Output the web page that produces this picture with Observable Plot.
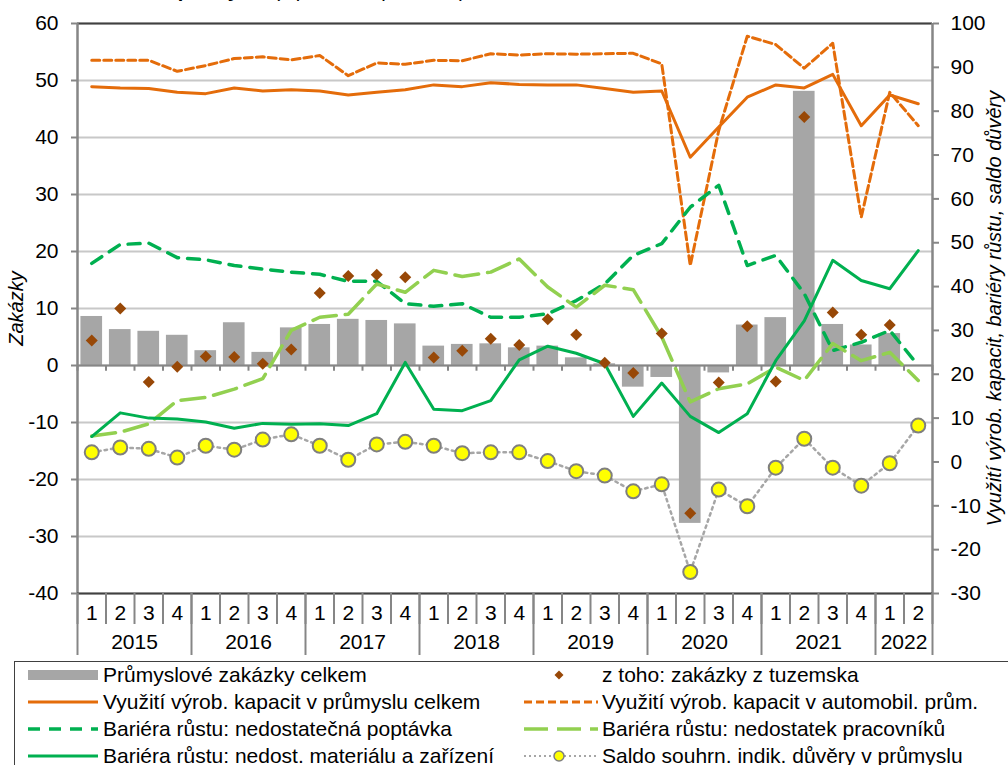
<!DOCTYPE html>
<html>
<head>
<meta charset="utf-8">
<script src="https://cdn.jsdelivr.net/npm/d3@7"></script>
<script src="https://cdn.jsdelivr.net/npm/@observablehq/plot@0.6"></script>
<style>
html, body { margin: 0; padding: 0; background: #fff; overflow: hidden; width: 1008px; height: 765px; }
#wrap { position: relative; width: 1008px; height: 765px; font-family: "Liberation Sans", Arial, sans-serif; color: #000; }
#title { position: absolute; left: 0; top: -20px; font-size: 20px; line-height: 20px; white-space: nowrap; }
#chart { position: absolute; left: 0; top: 0; }
#legendBox { position: absolute; left: 14px; top: 661px; width: 1010px; height: 120px; border: 1.5px solid #404040; box-sizing: border-box; }
.item { position: absolute; height: 24px; display: flex; align-items: center; font-size: 21px; white-space: nowrap; }
.item svg { flex: none; }
</style>
</head>
<body>
<div id="wrap">
  <div id="chart"></div>
  <div id="title"><b>Graf 4 Ukazatele v průmyslu</b> (v průměru, procenta)</div>
  <div id="legendBox"></div>
</div>
<script>
// ---------- data ----------
const years = ["2015", "2016", "2017", "2018", "2019", "2020", "2021", "2022"];
const quartersPerYear = [4, 4, 4, 4, 4, 4, 4, 2];
const quarters = ["1","2","3","4","1","2","3","4","1","2","3","4","1","2","3","4",
                  "1","2","3","4","1","2","3","4","1","2","3","4","1","2"];

// left axis (Zakázky)
const orders = [8.6, 6.3, 6.0, 5.3, 2.6, 7.5, 2.3, 6.6, 7.2, 8.1, 7.9, 7.3, 3.4, 3.7, 3.8,
                3.1, 3.4, 1.35, 0.3, -3.8, -2.1, -27.7, -1.3, 7.1, 8.4, 48.1, 7.2, 3.6, 5.6, null];
const domestic = [4.4, 10.0, -2.9, -0.2, 1.6, 1.5, 0.3, 2.8, 12.7, 15.7, 15.9, 15.5, 1.4, 2.6, 4.7,
                  3.6, 8.1, 5.4, 0.5, -1.3, 5.6, -25.9, -3.0, 6.9, -2.8, 43.6, 9.3, 5.4, 7.1, null];

// right axis
const capacity = [85.6, 85.3, 85.2, 84.3, 84.0, 85.3, 84.6, 84.9, 84.6, 83.7, 84.3, 84.9, 86.0, 85.6, 86.5,
                  86.1, 86.0, 86.0, 85.2, 84.3, 84.6, 69.5, 76.4, 83.2, 86.0, 85.3, 88.4, 76.7, 83.7, 81.7];
const autoCapacity = [91.6, 91.6, 91.6, 89.1, 90.4, 92.0, 92.4, 91.7, 92.7, 88.1, 91.0, 90.7, 91.6, 91.5, 93.1,
                      92.8, 93.1, 93.0, 93.1, 93.2, 90.8, 44.8, 75.6, 97.1, 95.2, 89.8, 95.5, 55.8, 84.3, 76.7];
const demand = [45.3, 49.6, 49.9, 46.6, 46.1, 44.8, 44.0, 43.3, 42.8, 41.2, 41.2, 36.1, 35.5, 36.1, 33.0,
                33.0, 33.8, 36.8, 40.6, 47.1, 49.8, 58.1, 63.1, 44.8, 47.1, 38.4, 25.4, 27.3, 30.0, 22.0];
const labour = [5.9, 6.8, 8.7, 14.0, 14.7, 16.6, 19.0, 30.0, 33.0, 33.7, 40.6, 38.7, 43.7, 42.3, 43.3,
                46.3, 39.9, 35.3, 40.3, 39.3, 28.5, 13.7, 16.7, 17.8, 21.6, 18.6, 27.0, 23.1, 25.0, 18.6];
const material = [5.8, 11.2, 10.0, 9.8, 9.1, 7.7, 8.8, 8.6, 8.7, 8.3, 11.0, 22.7, 12.0, 11.7, 14.0,
                  23.3, 26.4, 24.8, 22.4, 10.4, 18.0, 10.4, 6.7, 11.0, 23.1, 32.2, 46.0, 41.4, 39.5, 48.2];
const confidence = [2.2, 3.3, 3.0, 1.0, 3.7, 2.8, 5.1, 6.3, 3.7, 0.5, 4.0, 4.6, 3.7, 2.0, 2.2,
                    2.2, 0.2, -2.1, -3.1, -6.7, -5.1, -25.1, -6.3, -10.1, -1.3, 5.3, -1.3, -5.4, -0.3, 8.3];

const leftTicks = [-40, -30, -20, -10, 0, 10, 20, 30, 40, 50, 60];
const rightTicks = [-30, -20, -10, 0, 10, 20, 30, 40, 50, 60, 70, 80, 90, 100];
const leftDomain = [-40, 60];
const rightDomain = [-30, 100];

const labels = {
  orders: "Průmyslové zakázky celkem",
  domestic: "z toho: zakázky z tuzemska",
  capacity: "Využití výrob. kapacit v průmyslu celkem",
  autoCapacity: "Využití výrob. kapacit v automobil. prům.",
  demand: "Bariéra růstu: nedostatečná poptávka",
  labour: "Bariéra růstu: nedostatek pracovníků",
  material: "Bariéra růstu: nedost. materiálu a zařízení",
  confidence: "Saldo souhrn. indik. důvěry v průmyslu"
};
const axisTitleLeft = "Zakázky";
const axisTitleRight = "Využití výrob. kapacit, bariéry růstu, saldo důvěry";

// ---------- styles ----------
const C = {
  bar: "#a6a6a6", diamond: "#984807", orange: "#e46c0a", green: "#00b050",
  lightGreen: "#92d050", yellow: "#ffff00", dotStroke: "#7f7f7f", dotted: "#a6a6a6",
  axis: "#868686", grid: "#c8c8c8", frame: "#404040"
};
const DASH = { auto: "8,4", demand: "12,9", labour: "24,9", dotted: "2.5,4" };

// ---------- derived ----------
const toLeft = v => v == null ? null :
  leftDomain[0] + (v - rightDomain[0]) * (leftDomain[1] - leftDomain[0]) / (rightDomain[1] - rightDomain[0]);
const fromLeft = y => Math.round(rightDomain[0] + (y - leftDomain[0]) * (rightDomain[1] - rightDomain[0]) / (leftDomain[1] - leftDomain[0]));

const yearStarts = [];
{ let s = 0; quartersPerYear.forEach(n => { yearStarts.push(s); s += n; }); }
const yearCenters = years.map((y, k) => yearStarts[k] + (quartersPerYear[k] - 1) / 2);
const yearLabel = new Map(yearCenters.map((c, k) => [c, years[k]]));
const yearBounds = [...yearStarts.map(s => s - 0.5), quarters.length - 0.5];
const qBounds = d3.range(quarters.length + 1).map(k => k - 0.5);

const rows = quarters.map((q, i) => ({
  i, q,
  orders: orders[i], domestic: domestic[i],
  capacity: toLeft(capacity[i]), autoCapacity: toLeft(autoCapacity[i]),
  demand: toLeft(demand[i]), labour: toLeft(labour[i]),
  material: toLeft(material[i]), confidence: toLeft(confidence[i])
}));

const diamondSymbol = {
  draw(ctx, size) {
    const h = Math.sqrt(size / Math.PI) * 1.2;
    ctx.moveTo(0, -h); ctx.lineTo(h, 0); ctx.lineTo(0, h); ctx.lineTo(-h, 0); ctx.closePath();
  }
};

const FONT = 21;
const chart = Plot.plot({
  width: 1008, height: 657,
  marginLeft: 77, marginRight: 76, marginTop: 23, marginBottom: 64,
  x: { type: "linear", domain: [-0.5, quarters.length - 0.5], axis: null },
  y: { domain: leftDomain, axis: null },
  style: { fontFamily: "'Liberation Sans', Arial, sans-serif", fontSize: FONT + "px", color: "#000", background: "#fff", overflow: "visible" },
  marks: [
    Plot.gridY({ ticks: leftTicks, stroke: C.grid, strokeOpacity: 1, strokeWidth: 2 }),
    Plot.rectY(rows.filter(d => d.orders != null), { x1: d => d.i - 0.38, x2: d => d.i + 0.38, y: "orders", fill: C.bar }),
    Plot.ruleY([0], { stroke: C.axis, strokeWidth: 2 }),
    Plot.ruleX(qBounds, { y1: 0, y2: -1, stroke: C.axis, strokeWidth: 2 }),
    Plot.ruleY([leftDomain[1]], { stroke: C.frame, strokeWidth: 2 }),
    Plot.ruleX([-0.5, quarters.length - 0.5], { stroke: C.axis, strokeWidth: 2.5 }),
    Plot.ruleY([leftDomain[0]], { stroke: C.frame, strokeWidth: 2 }),

    Plot.line(rows, { x: "i", y: "capacity", stroke: C.orange, strokeWidth: 3 }),
    Plot.line(rows, { x: "i", y: "autoCapacity", stroke: C.orange, strokeWidth: 3, strokeDasharray: DASH.auto }),
    Plot.line(rows, { x: "i", y: "demand", stroke: C.green, strokeWidth: 3.5, strokeDasharray: DASH.demand }),
    Plot.line(rows, { x: "i", y: "labour", stroke: C.lightGreen, strokeWidth: 3.5, strokeDasharray: DASH.labour }),
    Plot.line(rows, { x: "i", y: "material", stroke: C.green, strokeWidth: 3 }),
    Plot.line(rows, { x: "i", y: "confidence", stroke: C.dotted, strokeWidth: 2.5, strokeDasharray: DASH.dotted }),
    Plot.dot(rows, { x: "i", y: "confidence", r: 7, fill: C.yellow, stroke: C.dotStroke, strokeWidth: 2 }),
    Plot.dot(rows.filter(d => d.domestic != null), { x: "i", y: "domestic", r: 5, symbol: diamondSymbol, fill: C.diamond, stroke: "none" }),

    // left axis
    Plot.axisY({ ticks: leftTicks, anchor: "left", tickSize: 6, tickPadding: 13, tickFormat: d => String(d),
                 stroke: C.axis, strokeWidth: 2, fill: "#000", fontSize: FONT, label: null }),
    // right axis
    Plot.axisY({ ticks: rightTicks.map(toLeft), anchor: "right", tickSize: 6, tickPadding: 12, tickFormat: d => String(fromLeft(d)),
                 stroke: C.axis, strokeWidth: 2, fill: "#000", fontSize: FONT, label: null }),
    // x axis: separators
    Plot.axisX({ ticks: qBounds, anchor: "bottom", tickSize: 31, tickFormat: () => "", stroke: C.axis, strokeWidth: 2, label: null }),
    Plot.axisX({ ticks: yearBounds, anchor: "bottom", tickSize: 62, tickFormat: () => "", stroke: C.axis, strokeWidth: 2, label: null }),
    // x axis: labels
    Plot.axisX({ ticks: d3.range(quarters.length), anchor: "bottom", tickSize: 0, tickPadding: 12,
                 tickFormat: i => quarters[i], fill: "#000", fontSize: FONT, label: null }),
    Plot.axisX({ ticks: yearCenters, anchor: "bottom", tickSize: 0, tickPadding: 41,
                 tickFormat: c => yearLabel.get(c), fill: "#000", fontSize: FONT, label: null }),

    // axis titles
    Plot.text([axisTitleLeft], { frameAnchor: "left", textAnchor: "middle", dx: -61, rotate: -90, fontStyle: "italic", fontSize: 20, fill: "#000" }),
    Plot.text([axisTitleRight], { frameAnchor: "right", textAnchor: "middle", dx: 62, rotate: -90, fontStyle: "italic", fontSize: 20, fill: "#000" })
  ]
});
document.getElementById("chart").appendChild(chart);

// ---------- legend ----------
const NS = "http://www.w3.org/2000/svg";
function sym(kind, w) {
  const s = document.createElementNS(NS, "svg");
  s.setAttribute("width", w); s.setAttribute("height", 24);
  const mid = 12;
  const add = (tag, attrs) => { const e = document.createElementNS(NS, tag); for (const k in attrs) e.setAttribute(k, attrs[k]); s.appendChild(e); return e; };
  const line = (stroke, sw, dash) => add("line", { x1: 0, x2: w, y1: mid, y2: mid, stroke, "stroke-width": sw, "stroke-dasharray": dash || "none" });
  if (kind === "orders") add("rect", { x: 0, y: mid - 5, width: w, height: 10, fill: C.bar });
  if (kind === "capacity") line(C.orange, 3);
  if (kind === "autoCapacity") line(C.orange, 3, DASH.auto);
  if (kind === "demand") line(C.green, 3.5, DASH.demand);
  if (kind === "labour") line(C.lightGreen, 3.5, DASH.labour);
  if (kind === "material") line(C.green, 3);
  if (kind === "domestic") { const h = 4.5, c = 35; add("path", { d: `M${c},${mid - h}L${c + h},${mid}L${c},${mid + h}L${c - h},${mid}Z`, fill: C.diamond }); }
  if (kind === "confidence") { line(C.dotted, 2, "2,3"); add("circle", { cx: 35, cy: mid, r: 5, fill: C.yellow, stroke: C.dotStroke, "stroke-width": 1.5 }); }
  return s;
}
const legendCols = [
  { symX: 28, symW: 70, textX: 103, keys: ["orders", "capacity", "demand", "material"] },
  { symX: 524, symW: 74, textX: 602, keys: ["domestic", "autoCapacity", "labour", "confidence"] }
];
const rowCenters = [675, 702, 729, 756];
const wrap = document.getElementById("wrap");
legendCols.forEach(col => col.keys.forEach((k, r) => {
  const it = document.createElement("div");
  it.className = "item";
  it.style.left = col.symX + "px";
  it.style.top = (rowCenters[r] - 12) + "px";
  it.appendChild(sym(k, col.symW));
  const t = document.createElement("span");
  t.textContent = labels[k];
  t.style.marginLeft = (col.textX - col.symX - col.symW) + "px";
  it.appendChild(t);
  wrap.appendChild(it);
}));
</script>
</body>
</html>
